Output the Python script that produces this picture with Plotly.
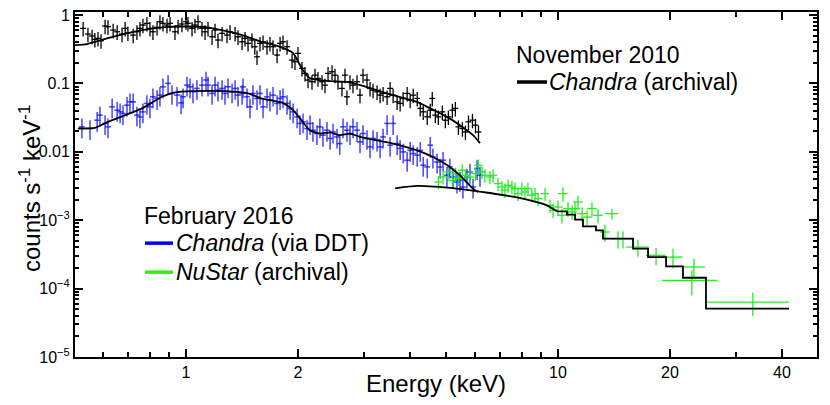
import plotly.graph_objects as go

# ---- Chandra 2010 (archival) data: energy keV, counts/s/keV
chandra10_e = [0.529, 0.545, 0.559, 0.569, 0.580, 0.591, 0.606, 0.617, 0.637, 0.653, 0.673, 0.686,
               0.698, 0.721, 0.738, 0.752, 0.766, 0.785, 0.800, 0.815, 0.836, 0.851, 0.867, 0.889,
               0.906, 0.934, 0.952, 0.975, 1.000, 1.012, 1.038, 1.057, 1.077, 1.104, 1.125, 1.146,
               1.175, 1.197, 1.219, 1.250, 1.289, 1.313, 1.355, 1.380, 1.415, 1.441, 1.468, 1.504,
               1.531, 1.552, 1.581, 1.611, 1.651, 1.682, 1.714, 1.757, 1.790, 1.823, 1.869, 1.928,
               1.963, 2.000, 2.050, 2.089, 2.128, 2.181, 2.222, 2.264, 2.321, 2.364, 2.409, 2.469,
               2.515, 2.562, 2.626, 2.675, 2.708, 2.759, 2.811, 2.882, 2.936, 2.991, 3.066, 3.124,
               3.183, 3.263, 3.324, 3.387, 3.472, 3.537, 3.604, 3.694, 3.764, 3.835, 3.931, 4.005,
               4.081, 4.183, 4.262, 4.342, 4.451, 4.535, 4.592, 4.679, 4.767, 4.887, 4.979, 5.073,
               5.200, 5.298, 5.398, 5.534, 5.638, 5.745, 5.889, 6.000, 6.113]
chandra10_c = [0.638, 0.527, 0.493, 0.441, 0.456, 0.421, 0.690, 0.674, 0.603, 0.569, 0.527, 0.638,
               0.550, 0.509, 0.569, 0.638, 0.714, 0.756, 0.638, 0.569, 0.661, 0.798, 0.756, 0.714,
               0.756, 0.569, 0.690, 0.738, 0.800, 0.756, 0.638, 0.714, 0.798, 0.638, 0.569, 0.638,
               0.481, 0.603, 0.431, 0.540, 0.509, 0.569, 0.540, 0.481, 0.406, 0.456, 0.385, 0.431,
               0.344, 0.245, 0.385, 0.406, 0.344, 0.385, 0.344, 0.260, 0.385, 0.406, 0.344, 0.219,
               0.207, 0.275, 0.166, 0.140, 0.112, 0.106, 0.132, 0.118, 0.106, 0.0944, 0.140, 0.148,
               0.132, 0.106, 0.0845, 0.132, 0.0637, 0.106, 0.0944, 0.106, 0.0674, 0.132, 0.112, 0.0845,
               0.0798, 0.0754, 0.0674, 0.0714, 0.0637, 0.0845, 0.0674, 0.0538, 0.0510, 0.0603, 0.0714, 0.0569,
               0.0674, 0.0603, 0.0431, 0.0384, 0.0324, 0.0406, 0.0603, 0.0344, 0.0324, 0.0384, 0.0290, 0.0324,
               0.0406, 0.0431, 0.0232, 0.0219, 0.0195, 0.0274, 0.0290, 0.0245, 0.0195]

chandra10_model_e = [0.503, 0.542, 0.617, 0.762, 0.879, 0.994, 1.146, 1.415, 1.60, 1.79, 1.94, 2.06,
                     2.15, 2.39, 2.71, 2.94, 3.60, 4.18, 4.45, 5.03, 5.45, 5.91, 6.17]
chandra10_model_c = [0.364, 0.376, 0.461, 0.603, 0.667, 0.679, 0.661, 0.509, 0.403, 0.343, 0.278, 0.157,
                     0.120, 0.109, 0.105, 0.0944, 0.0674, 0.0538, 0.0454, 0.0324, 0.0245, 0.0175, 0.0134]

# ---- Chandra 2016 (DDT) data
chandra16_e = [0.525, 0.552, 0.577, 0.587, 0.606, 0.617, 0.633, 0.653, 0.665, 0.677, 0.694, 0.707,
               0.721, 0.738, 0.752, 0.766, 0.785, 0.800, 0.815, 0.836, 0.851, 0.867, 0.895, 0.917,
               0.946, 0.970, 0.982, 1.006, 1.025, 1.044, 1.070, 1.104, 1.132, 1.146, 1.175, 1.197,
               1.219, 1.250, 1.273, 1.297, 1.330, 1.355, 1.380, 1.415, 1.423, 1.459, 1.486, 1.513,
               1.552, 1.581, 1.611, 1.651, 1.682, 1.714, 1.757, 1.790, 1.823, 1.869, 1.904, 1.941,
               1.989, 2.024, 2.064, 2.115, 2.155, 2.194, 2.249, 2.290, 2.334, 2.393, 2.440, 2.484,
               2.546, 2.590, 2.643, 2.708, 2.759, 2.811, 2.882, 2.936, 2.991, 3.066, 3.124, 3.183,
               3.263, 3.324, 3.387, 3.472, 3.537, 3.604, 3.694, 3.764, 3.835, 3.931, 4.005, 4.081,
               4.183, 4.262, 4.342, 4.451, 4.535, 4.610, 4.730, 4.820, 4.910, 5.030, 5.120, 5.220,
               5.350, 5.450, 5.550, 5.690, 5.800, 5.910, 6.060, 6.170]
chandra16_c = [0.0232, 0.0219, 0.0290, 0.0344, 0.0260, 0.0232, 0.0454, 0.0406, 0.0384, 0.0364, 0.0481, 0.0538,
               0.0538, 0.0344, 0.0324, 0.0384, 0.0510, 0.0454, 0.0637, 0.0603, 0.0674, 0.0892, 0.100, 0.0714,
               0.0674, 0.0520, 0.0637, 0.0944, 0.0892, 0.0754, 0.0845, 0.0944, 0.112, 0.0944, 0.0714, 0.0944,
               0.0798, 0.0845, 0.0714, 0.0892, 0.0754, 0.0845, 0.0674, 0.0714, 0.0892, 0.0637, 0.0454, 0.0714,
               0.0603, 0.0714, 0.0454, 0.0637, 0.0569, 0.0674, 0.0510, 0.0603, 0.0637, 0.0510, 0.0431, 0.0384,
               0.0324, 0.0260, 0.0274, 0.0219, 0.0260, 0.0207, 0.0185, 0.0232, 0.0175, 0.0207, 0.0157, 0.0195,
               0.0165, 0.0132, 0.0232, 0.0207, 0.0185, 0.0232, 0.0207, 0.0140, 0.0185, 0.0157, 0.0118, 0.0157,
               0.0148, 0.0118, 0.0165, 0.0260, 0.0125, 0.0260, 0.0132, 0.0112, 0.00997, 0.00754, 0.0105, 0.00944,
               0.00892, 0.0105, 0.00637, 0.00601, 0.0125, 0.0084, 0.00711, 0.00601, 0.00754, 0.00454, 0.00601, 0.00429,
               0.00362, 0.00384, 0.00306, 0.00429, 0.00508, 0.00306, 0.00569, 0.00454]

chandra16_model_e = [0.512, 0.569, 0.617, 0.762, 0.862, 0.934, 1.038, 1.273, 1.468, 1.60, 1.82, 1.94,
                     2.06, 2.15, 2.29, 2.44, 2.59, 2.76, 2.94, 3.60, 4.18, 4.61, 5.03, 5.45, 5.91, 6.10]
chandra16_model_c = [0.0219, 0.0224, 0.0274, 0.0431, 0.0637, 0.0738, 0.0771, 0.0771, 0.0714, 0.0600, 0.0520, 0.0406,
                     0.0274, 0.0207, 0.0185, 0.0192, 0.0175, 0.0185, 0.0165, 0.0132, 0.0105, 0.0084, 0.0064, 0.00454,
                     0.00290, 0.00259]

# ---- NuSTAR (archival) data
nustar_e = [4.77, 4.91, 5.07, 5.20, 5.30, 5.40, 5.53, 5.64, 5.80, 6.00, 6.11, 6.25, 6.36, 6.56, 6.69,
            6.90, 7.07, 7.20, 7.34, 7.52, 7.66, 7.81, 8.00, 8.15, 8.30, 8.51, 8.67, 8.84, 9.23, 9.52,
            9.70, 10.0, 10.25, 10.31, 10.64, 10.91, 11.11, 11.32, 11.61, 11.97, 12.34, 12.81, 13.37,
            13.96, 14.50, 14.95, 16.40, 18.35, 20.38, 23.2, 22.9, 33.4]
nustar_c = [0.00362, 0.00429, 0.00508, 0.00384, 0.00481, 0.00406, 0.00538, 0.00454, 0.00429, 0.00481,
            0.00637, 0.00508, 0.00454, 0.00429, 0.00454, 0.00343, 0.00306, 0.00274, 0.00324, 0.00306,
            0.00290, 0.00245, 0.00290, 0.00259, 0.00290, 0.00232, 0.00245, 0.00207, 0.00245, 0.00165,
            0.00140, 0.00156, 0.00118, 0.00245, 0.00148, 0.00132, 0.00148, 0.00185, 0.00125, 0.00111,
            0.00148, 0.00118, 0.000672, 0.00125, 0.000538, 0.000538, 0.000405, 0.000306, 0.000289,
            0.000207, 0.000132, 6.34e-5]
nustar_xerr_pct = [2.5] * 31 + [3, 3, 3, 3, 3, 3, 3, 3, 3, 3, 3, 3, 4, 8, 7, 7, 6, 6, 7, 17, 25]
nustar_yerr_pct = [22] * 30 + [24] * 12 + [28, 18, 28, 28, 28, 28, 32, 32, 40, 38]

# NuSTAR model: smooth low-energy part, then binned steps (left edges, last value repeated)
nustar_smooth_e = [3.65, 4.18, 5.35, 6.56, 8.05, 9.34, 9.94]
nustar_smooth_c = [0.00293, 0.00317, 0.00290, 0.00250, 0.00207, 0.00165, 0.00135]
nustar_step_e = [9.94, 10.57, 11.11, 11.67, 12.65, 13.21, 15.91, 17.46, 19.52, 21.67, 24.99, 41.8]
nustar_step_c = [0.00135, 0.00121, 0.00102, 0.000814, 0.000711, 0.000538, 0.000384, 0.000289,
                 0.000211, 0.000144, 5.08e-5, 5.08e-5]

x_tickvals = [1, 2, 10, 20, 40]
x_ticktext = ["1", "2", "10", "20", "40"]
x_minor = [0.6, 0.7, 0.8, 0.9, 3, 4, 5, 6, 7, 8, 9, 30]
y_tickvals = [1, 0.1, 0.01, 1e-3, 1e-4, 1e-5]
y_ticktext = ["1", "0.1", "0.01", "10<sup>−3</sup>", "10<sup>−4</sup>", "10<sup>−5</sup>"]
y_minor = [m * 10.0 ** k for k in range(-5, 0) for m in range(2, 10)]

FONT = "Liberation Sans, Arial, sans-serif"

fig = go.Figure()


def add_points(e, c, color, xpct, ypct, thick):
    fig.add_trace(go.Scatter(
        x=e, y=c, mode="markers",
        marker=dict(size=1, color=color),
        error_x=dict(type="percent", value=xpct, width=0, thickness=thick, color=color),
        error_y=dict(type="percent", value=ypct, width=0, thickness=thick, color=color),
        showlegend=False, hoverinfo="x+y"))


add_points(chandra10_e, chandra10_c, "black", 1.8, 24, 1.3)
add_points(chandra16_e, chandra16_c, "rgba(20,20,255,0.75)", 1.8, 32, 1.6)

fig.add_trace(go.Scatter(
    x=nustar_e, y=nustar_c, mode="markers",
    marker=dict(size=1, color="#22ee22"),
    error_x=dict(type="data", array=[e * p / 100 for e, p in zip(nustar_e, nustar_xerr_pct)],
                 width=0, thickness=1.3, color="#22ee22"),
    error_y=dict(type="data", array=[c * p / 100 for c, p in zip(nustar_c, nustar_yerr_pct)],
                 width=0, thickness=1.3, color="#22ee22"),
    showlegend=False))

line_style = dict(color="black", width=1.8)
fig.add_trace(go.Scatter(x=chandra10_model_e, y=chandra10_model_c, mode="lines",
                         line=dict(**line_style, shape="spline", smoothing=0.5), showlegend=False))
fig.add_trace(go.Scatter(x=chandra16_model_e, y=chandra16_model_c, mode="lines",
                         line=dict(**line_style, shape="spline", smoothing=0.5), showlegend=False))
fig.add_trace(go.Scatter(x=nustar_smooth_e, y=nustar_smooth_c, mode="lines",
                         line=dict(**line_style, shape="spline", smoothing=0.5), showlegend=False))
fig.add_trace(go.Scatter(x=nustar_step_e, y=nustar_step_c, mode="lines",
                         line=dict(**line_style, shape="hv"), showlegend=False))

# legend drawn as text + line segments
legend_lines = [(0.5957, 0.6361, 0.797, "black"),
                (0.0943, 0.1321, 0.330, "blue"),
                (0.0943, 0.1321, 0.246, "#33ee11")]
for x0, x1, yy, col in legend_lines:
    fig.add_shape(type="line", xref="paper", yref="paper", x0=x0, x1=x1, y0=yy, y1=yy,
                  line=dict(color=col, width=3.5))

labels = [(0.5915, 0.875, "November 2010"),
          (0.636, 0.797, "<i>Chandra</i> (archival)"),
          (0.0905, 0.409, "February 2016"),
          (0.1335, 0.330, "<i>Chandra</i> (via DDT)"),
          (0.1335, 0.246, "<i>NuStar</i> (archival)")]
for lx, ly, txt in labels:
    fig.add_annotation(x=lx, y=ly, xref="paper", yref="paper", text=txt, showarrow=False,
                       xanchor="left", yanchor="middle", font=dict(size=23, color="black", family=FONT))

# axis titles as annotations so they sit where the reference has them
fig.add_annotation(x=0.4865, y=-0.0754, xref="paper", yref="paper", text="Energy (keV)",
                   showarrow=False, xanchor="center", yanchor="middle",
                   font=dict(size=24, color="black", family=FONT))
fig.add_annotation(x=-0.0606, y=0.487, xref="paper", yref="paper",
                   text="counts s<sup>-1</sup> keV<sup>-1</sup>", textangle=-90,
                   showarrow=False, xanchor="center", yanchor="middle",
                   font=dict(size=24, color="black", family=FONT))

axis_common = dict(type="log", showline=True, linecolor="black", linewidth=2, mirror="ticks",
                   ticks="inside", tickcolor="black", tickwidth=2, ticklen=8, automargin=False,
                   showgrid=False, zeroline=False, tickfont=dict(size=16, family=FONT, color="black"))

fig.update_xaxes(**axis_common, range=[-0.2984, 1.6962], tickmode="array",
                 tickvals=x_tickvals, ticktext=x_ticktext,
                 minor=dict(tickmode="array", tickvals=x_minor, ticks="inside", ticklen=5,
                            tickwidth=2, tickcolor="black"))
fig.update_yaxes(**axis_common, range=[-5, 0.044], tickmode="array",
                 tickvals=y_tickvals, ticktext=y_ticktext,
                 minor=dict(tickmode="array", tickvals=y_minor, ticks="inside", ticklen=4,
                            tickwidth=2, tickcolor="black"))

fig.update_layout(width=830, height=405, margin=dict(l=75, r=13, t=12, b=48, autoexpand=False),
                  plot_bgcolor="white", paper_bgcolor="white", font=dict(family=FONT))

# drop the page's default body margin so the figure sits at the window's corner
fig.write_html("out.html", config={"displayModeBar": False},
               post_script="document.body.style.margin='0';document.body.style.overflow='hidden';")
